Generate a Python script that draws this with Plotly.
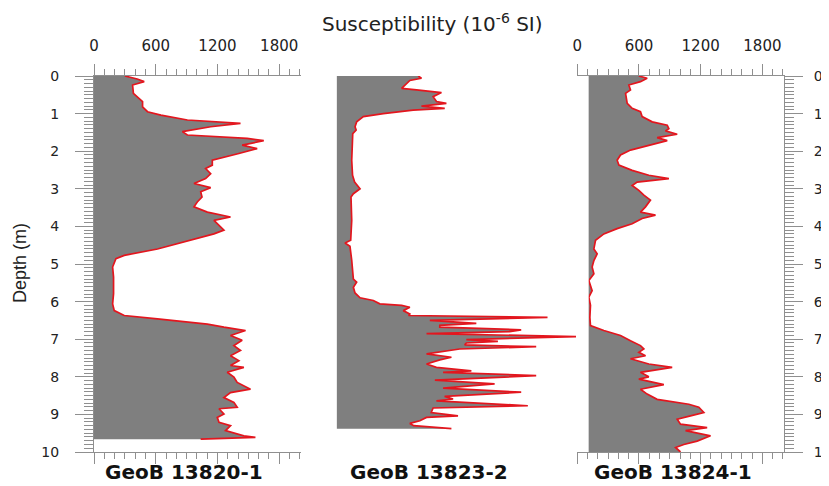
import plotly.graph_objects as go

# ---------------- data ----------------
depth_13820 = [0.0, 0.08, 0.15, 0.24, 0.46, 0.6, 0.68, 0.82, 0.95, 1.04, 1.17, 1.26, 1.35, 1.48,
               1.57, 1.66, 1.72, 1.84, 1.93, 2.06, 2.24, 2.37, 2.46, 2.6, 2.73, 2.86, 2.97, 3.08,
               3.22, 3.35, 3.48, 3.62, 3.75, 3.84, 3.93, 4.1, 4.2, 4.37, 4.6, 4.77, 4.86, 5.08,
               5.35, 5.79, 6.06, 6.24, 6.37, 6.46, 6.6, 6.68, 6.77, 6.9, 7.03, 7.17, 7.3, 7.44,
               7.57, 7.7, 7.75, 7.88, 8.01, 8.15, 8.33, 8.42, 8.55, 8.68, 8.81, 8.85, 8.99, 9.08,
               9.21, 9.3, 9.43, 9.57, 9.61, 9.66]
sus_13820 = [300, 420, 488, 375, 383, 440, 472, 472, 520, 650, 908, 1424, 1134, 859,
             908, 1489, 1650, 1440, 1586, 1408, 1150, 1150, 1085, 1134, 1085, 972, 1134, 1037,
             1050, 1004, 972, 1102, 1327, 1166, 1198, 1263, 1166, 940, 617, 294, 213, 181,
             190, 190, 181, 197, 294, 617, 1102, 1263, 1473, 1327, 1440, 1360, 1424, 1327,
             1408, 1327, 1457, 1295, 1360, 1392, 1521, 1327, 1263, 1360, 1392, 1215, 1263, 1198,
             1215, 1327, 1279, 1457, 1569, 1037]

depth_13823 = [0.0, 0.06, 0.12, 0.24, 0.33, 0.37, 0.44, 0.55, 0.68, 0.73, 0.8, 0.86, 0.91, 1.0,
               1.08, 1.22, 1.35, 1.44, 1.53, 2.24, 2.64, 2.82, 3.0, 3.13, 3.22, 3.84, 4.37, 4.44,
               4.53, 4.9, 5.26, 5.4, 5.48, 5.62, 5.77, 5.9, 5.97, 6.06, 6.1, 6.15, 6.24, 6.33,
               6.37, 6.42, 6.5, 6.58, 6.63, 6.68, 6.75, 6.8, 6.85, 6.93, 7.01, 7.06, 7.1, 7.15,
               7.2, 7.26, 7.39, 7.48, 7.55, 7.66, 7.75, 7.84, 7.88, 7.97, 8.09, 8.19, 8.3, 8.41,
               8.52, 8.59, 8.64, 8.77, 8.83, 8.95, 9.04, 9.08, 9.17, 9.24, 9.3, 9.38]
sus_13823 = [793, 825, 712, 664, 632, 777, 1019, 938, 971, 1067, 825, 1051, 744, 454,
             260, 195, 179, 190, 157, 147, 155, 175, 228, 163, 140, 147, 137, 82,
             130, 147, 163, 163, 195, 163, 179, 228, 357, 420, 632, 712, 648, 712,
             700, 2050, 906, 1358, 1003, 1003, 1794, 1681, 874, 2327, 1261, 1568, 1261, 1245,
             1940, 1196, 874, 1116, 1003, 874, 970, 1310, 1035, 1940, 955, 1536, 1035, 1794,
             1050, 1132, 970, 1859, 938, 920, 1180, 874, 809, 712, 750, 1116]

depth_13824 = [0.0, 0.06, 0.15, 0.24, 0.37, 0.46, 0.73, 0.86, 0.95, 1.08, 1.22, 1.31, 1.4, 1.46,
               1.55, 1.64, 1.72, 1.84, 1.97, 2.1, 2.24, 2.37, 2.51, 2.64, 2.73, 2.82, 2.91, 3.04,
               3.17, 3.3, 3.48, 3.62, 3.7, 3.79, 3.93, 4.06, 4.2, 4.37, 4.6, 4.73, 4.91, 5.08,
               5.26, 5.44, 5.71, 5.88, 6.1, 6.42, 6.64, 6.77, 6.9, 7.04, 7.17, 7.26, 7.35, 7.44,
               7.52, 7.66, 7.75, 7.88, 8.0, 8.06, 8.15, 8.21, 8.33, 8.46, 8.6, 8.73, 8.81, 8.95,
               9.04, 9.13, 9.26, 9.35, 9.43, 9.57, 9.71, 9.8, 9.88, 10.0]
sus_13824 = [599, 680, 615, 502, 518, 470, 486, 534, 615, 631, 729, 875, 891, 858,
             972, 777, 875, 712, 518, 421, 388, 405, 534, 696, 891, 583, 534, 599,
             648, 712, 664, 615, 761, 631, 534, 388, 259, 178, 162, 194, 162, 145,
             162, 113, 145, 113, 129, 123, 129, 259, 421, 518, 615, 648, 599, 664,
             518, 696, 923, 615, 696, 599, 745, 842, 615, 680, 777, 1085, 1182, 1231,
             1101, 972, 1004, 1263, 1053, 1296, 1166, 1036, 956, 1004]

core_names = ["GeoB 13820-1", "GeoB 13823-2", "GeoB 13824-1"]
sus_ticks = [0, 600, 1200, 1800]
depth_ticks = list(range(0, 11))
depth_half_ticks = [i + 0.5 for i in range(10)]

# ---------------- style ----------------
GRAY = "#8f8f8f"
FILL = "#7f7f7f"
RED = "#e3161e"
TXT = "#222222"
XMAX = 2010
OFF = 8  # page body margin: the figure is drawn 8px from the window's top-left
W, H = 829 - OFF, 486 - OFF
# target positions in window pixels
PL, PR, PT, PB = 94, 783.7, 76, 452
ML, MT = PL - OFF, PT - OFF
MR = W - (PR - OFF)
MB = H - (PB - OFF)
PW = PR - PL
PH = PB - PT
pw = XMAX / 600 * 61.7 / PW  # panel width in paper units


def px(pix):
    return (pix - PL) / PW


def py(pix):
    return (PB - pix) / PH


d1 = [0.0, pw]
d2 = [px(336.5), px(336.5) + pw]
d3 = [px(577), min(1.0, px(577) + pw)]
XMAX4 = 2450
d4 = [d2[0], d2[0] + pw * XMAX4 / XMAX]

fig = go.Figure()
for xs, ys, xa, ya in [(sus_13820, depth_13820, "x", "y"),
                       (sus_13823, depth_13823, "x4", "y2"),
                       (sus_13824, depth_13824, "x3", "y3")]:
    fig.add_trace(go.Scatter(x=xs, y=ys, xaxis=xa, yaxis=ya, mode="lines",
                             fill="tozerox", fillcolor=FILL,
                             line=dict(color=RED, width=1.7),
                             hoverinfo="skip", showlegend=False))


def xaxis(domain, anchor):
    return dict(domain=domain, anchor=anchor, range=[0, XMAX], side="top",
                automargin=False,
                tickmode="array", tickvals=sus_ticks, ticks="outside", ticklen=11,
                tickwidth=1, tickcolor=GRAY, showline=True, linecolor=GRAY, linewidth=1,
                mirror="ticks", showgrid=False, zeroline=False,
                tickfont=dict(family="DejaVu Sans", size=15, color=TXT),
                ticklabelstandoff=7,
                minor=dict(ticks="outside", ticklen=6, tickwidth=1, tickcolor=GRAY,
                           dtick=100, tick0=0, showgrid=False))


def yaxis(anchor, side, standoff, visible=True):
    return dict(domain=[0, 1], anchor=anchor, side=side, range=[10, 0],
                automargin=False,
                tickmode="array", tickvals=depth_ticks, ticks="outside", ticklen=18,
                tickwidth=1, tickcolor=GRAY, showline=True, linecolor=GRAY, linewidth=1,
                showgrid=False, zeroline=False, visible=visible,
                tickfont=dict(family="DejaVu Sans", size=14, color=TXT),
                ticklabelstandoff=standoff,
                minor=dict(ticks="outside", ticklen=9, tickwidth=1, tickcolor=GRAY,
                           dtick=0.1, tick0=0, showgrid=False))


def yhalf(over, anchor, side):
    return dict(overlaying=over, anchor=anchor, side=side, range=[10, 0],
                automargin=False,
                tickmode="array", tickvals=depth_half_ticks, ticks="outside", ticklen=14,
                tickwidth=1, tickcolor=GRAY, showline=False, showgrid=False,
                zeroline=False, showticklabels=False)


fig.update_layout(
    width=W, height=H,
    margin=dict(l=ML, r=MR, t=MT, b=MB, pad=0, autoexpand=False),
    paper_bgcolor="white", plot_bgcolor="white",
    xaxis=xaxis(d1, "y"),
    xaxis2=xaxis(d2, "y2"),
    xaxis3=xaxis(d3, "y3"),
    xaxis4=dict(domain=d4, anchor="y2", range=[0, XMAX4], visible=False, automargin=False),
    yaxis=yaxis("x", "left", 13),
    yaxis2=yaxis("x2", "left", 5, visible=False),
    yaxis3=yaxis("x3", "right", 8),
    yaxis4=yhalf("y", "x", "left"),
    yaxis5=yhalf("y3", "x3", "right"),
)

fig.add_annotation(text="Susceptibility (10<sup>-6</sup> SI)", xref="paper", yref="paper",
                   x=px(432), y=py(23), showarrow=False, xanchor="center", yanchor="middle",
                   font=dict(family="DejaVu Sans", size=20, color=TXT))
fig.add_annotation(text="Depth (m)", xref="paper", yref="paper", x=px(20), y=py(263),
                   textangle=-90, showarrow=False, xanchor="center", yanchor="middle",
                   font=dict(family="Liberation Sans", size=18, color=TXT))
for name, cx in zip(core_names, [184, 428.5, 673]):
    fig.add_annotation(text="<b>%s</b>" % name, xref="paper", yref="paper",
                       x=px(cx), y=py(472), showarrow=False, xanchor="center",
                       yanchor="middle",
                       font=dict(family="DejaVu Sans", size=20, color="#111111"))

fig.write_html("out.html")
